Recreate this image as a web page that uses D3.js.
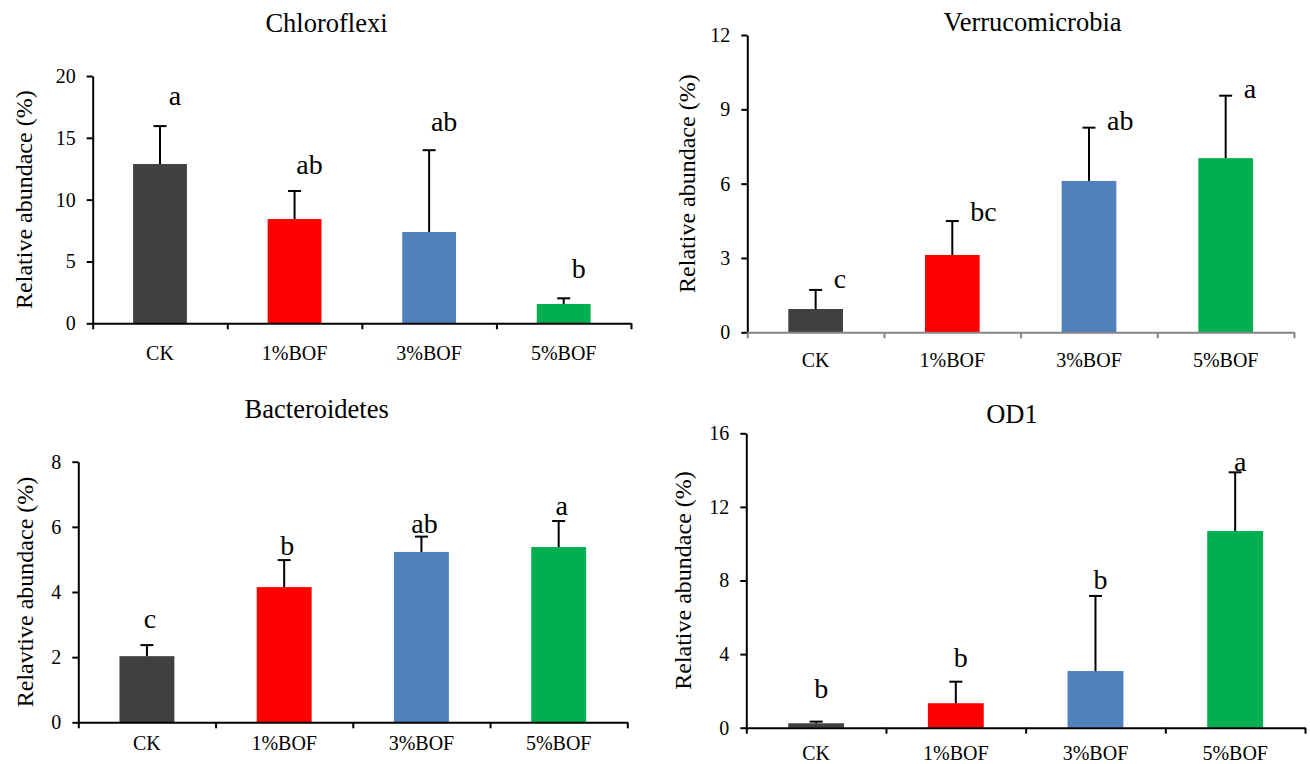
<!DOCTYPE html>
<html>
<head>
<meta charset="utf-8">
<script src="https://cdn.jsdelivr.net/npm/d3@7"></script>
<style>
  body { margin: 0; background: #fff; }
  svg { display: block; }
</style>
</head>
<body>
<div id="chart"></div>
<script>
// groups and bar colours
const groups = ["CK", "1%BOF", "3%BOF", "5%BOF"];
const barColors = ["#404040", "#ff0000", "#4f81bd", "#00b050"];

// Chloroflexi
const chloroMean = [12.88, 8.43, 7.38, 1.56];
const chloroErr = [3.07, 2.27, 6.62, 0.46];
const chloroLetters = ["a", "ab", "ab", "b"];
const chloroLetterAt = [17.65, 12.07, 15.55, 3.66];
const chloroTicks = [0, 5, 10, 15, 20];

// Verrucomicrobia
const verruMean = [0.94, 3.12, 6.11, 7.03];
const verruErr = [0.77, 1.37, 2.15, 2.52];
const verruLetters = ["c", "bc", "ab", "a"];
const verruLetterAt = [1.78, 4.50, 8.16, 9.44];
const verruTicks = [0, 3, 6, 9, 12];

// Bacteroidetes
const bactMean = [2.03, 4.15, 5.23, 5.38];
const bactErr = [0.34, 0.83, 0.47, 0.80];
const bactLetters = ["c", "b", "ab", "a"];
const bactLetterAt = [2.89, 5.13, 5.82, 6.36];
const bactTicks = [0, 2, 4, 6, 8];

// OD1
const od1Mean = [0.24, 1.33, 3.08, 10.69];
const od1Err = [0.09, 1.17, 4.08, 3.19];
const od1Letters = ["b", "b", "b", "a"];
const od1LetterAt = [1.6, 3.32, 7.54, 13.95];
const od1Ticks = [0, 4, 8, 12, 16];

const width = 1310;
const height = 764;
const serif = "'Liberation Serif', 'Times New Roman', serif";

const svg = d3.select("#chart")
    .append("svg")
    .attr("width", width)
    .attr("height", height);

svg.append("rect").attr("width", width).attr("height", height).attr("fill", "#fff");

// layout of each panel (pixels)
const panels = [
    { title: "Chloroflexi", ylabel: "Relative abundace (%)", mean: chloroMean, err: chloroErr,
      letters: chloroLetters, letterAt: chloroLetterAt, ticks: chloroTicks,
      x0: 92.7, x1: 631, yBottom: 323.3, yTop: 76, titleX: 326.5, titleY: 31.7,
      ylabelX: 32, xlabelDy: 37, letterDx: 15, letterAnchor: "middle", xAxisColor: "#000" },
    { title: "Verrucomicrobia", ylabel: "Relative abundace (%)", mean: verruMean, err: verruErr,
      letters: verruLetters, letterAt: verruLetterAt, ticks: verruTicks,
      x0: 747.3, x1: 1294, yBottom: 332.3, yTop: 35, titleX: 1032.5, titleY: 30.7,
      ylabelX: 695, xlabelDy: 35, letterDx: 18, letterAnchor: "start", xAxisColor: "#868686" },
    { title: "Bacteroidetes", ylabel: "Relavtive abundace (%)", mean: bactMean, err: bactErr,
      letters: bactLetters, letterAt: bactLetterAt, ticks: bactTicks,
      x0: 78.3, x1: 627.3, yBottom: 722.3, yTop: 461.7, titleX: 316.7, titleY: 418.3,
      ylabelX: 33, xlabelDy: 28, letterDx: 3, letterAnchor: "middle", xAxisColor: "#000" },
    { title: "OD1", ylabel: "Relative abundace (%)", mean: od1Mean, err: od1Err,
      letters: od1Letters, letterAt: od1LetterAt, ticks: od1Ticks,
      x0: 746.3, x1: 1305, yBottom: 727.7, yTop: 433.3, titleX: 1012, titleY: 423.3,
      ylabelX: 691, xlabelDy: 32, letterDx: 5, letterAnchor: "middle", xAxisColor: "#000" }
];

function drawPanel(p) {
    const g = svg.append("g");

    const x = d3.scaleBand()
        .domain(groups)
        .range([p.x0, p.x1])
        .paddingInner(0.6)
        .paddingOuter(0.3);

    const edge = d3.scaleLinear()
        .domain([0, groups.length])
        .range([p.x0, p.x1]);

    const y = d3.scaleLinear()
        .domain([0, d3.max(p.ticks)])
        .range([p.yBottom, p.yTop]);

    // title
    g.append("text")
        .attr("x", p.titleX)
        .attr("y", p.titleY)
        .attr("text-anchor", "middle")
        .attr("font-size", 26.5)
        .text(p.title);

    // y label
    g.append("text")
        .attr("transform", `translate(${p.ylabelX},${(p.yTop + p.yBottom) / 2}) rotate(-90)`)
        .attr("text-anchor", "middle")
        .attr("font-size", 24)
        .text(p.ylabel);

    // bars
    g.selectAll(".bar")
        .data(p.mean)
        .enter()
        .append("rect")
        .attr("class", "bar")
        .attr("x", (d, i) => x(groups[i]))
        .attr("width", x.bandwidth())
        .attr("y", d => y(d))
        .attr("height", d => y(0) - y(d))
        .attr("fill", (d, i) => barColors[i]);

    // error bars (upper half only)
    const cx = i => x(groups[i]) + x.bandwidth() / 2;
    const err = g.selectAll(".err")
        .data(p.mean)
        .enter()
        .append("g")
        .attr("class", "err")
        .attr("stroke", "#000")
        .attr("stroke-width", 2);

    err.append("line")
        .attr("x1", (d, i) => cx(i))
        .attr("x2", (d, i) => cx(i))
        .attr("y1", d => y(d))
        .attr("y2", (d, i) => y(d + p.err[i]));

    err.append("line")
        .attr("x1", (d, i) => cx(i) - 6.5)
        .attr("x2", (d, i) => cx(i) + 6.5)
        .attr("y1", (d, i) => y(d + p.err[i]))
        .attr("y2", (d, i) => y(d + p.err[i]));

    // significance letters
    g.selectAll(".letter")
        .data(p.letters)
        .enter()
        .append("text")
        .attr("class", "letter")
        .attr("x", (d, i) => cx(i) + p.letterDx)
        .attr("y", (d, i) => y(p.letterAt[i]))
        .attr("text-anchor", p.letterAnchor)
        .attr("font-size", 28)
        .text(d => d);

    // y axis
    const yAxis = g.append("g")
        .attr("transform", `translate(${p.x0},0)`)
        .call(d3.axisLeft(y)
            .tickValues(p.ticks)
            .tickSize(6)
            .tickSizeOuter(0)
            .tickPadding(11));
    yAxis.select(".domain").attr("stroke", "#000").attr("stroke-width", 2);
    yAxis.selectAll(".tick line").attr("stroke", "#000").attr("stroke-width", 2);
    yAxis.selectAll(".tick text")
        .attr("fill", "#000")
        .attr("font-size", 20);

    // x axis with ticks at category edges
    const xEdge = g.append("g")
        .attr("transform", `translate(0,${p.yBottom})`)
        .call(d3.axisBottom(edge)
            .tickValues(d3.range(groups.length + 1))
            .tickFormat("")
            .tickSize(6)
            .tickSizeOuter(0));
    xEdge.select(".domain").attr("stroke", p.xAxisColor).attr("stroke-width", 2);
    xEdge.selectAll(".tick line").attr("stroke", p.xAxisColor).attr("stroke-width", 2);

    // category labels
    const xLab = g.append("g")
        .attr("transform", `translate(0,${p.yBottom})`)
        .call(d3.axisBottom(x).tickSize(0).tickPadding(0));
    xLab.select(".domain").remove();
    xLab.selectAll(".tick text")
        .attr("dy", null)
        .attr("y", p.xlabelDy)
        .attr("fill", "#000")
        .attr("font-size", 20);
}

panels.forEach(drawPanel);

// serif everywhere, overriding the axis defaults
svg.selectAll("g").attr("font-family", serif);
svg.selectAll("text").style("font-family", serif);
</script>
</body>
</html>
